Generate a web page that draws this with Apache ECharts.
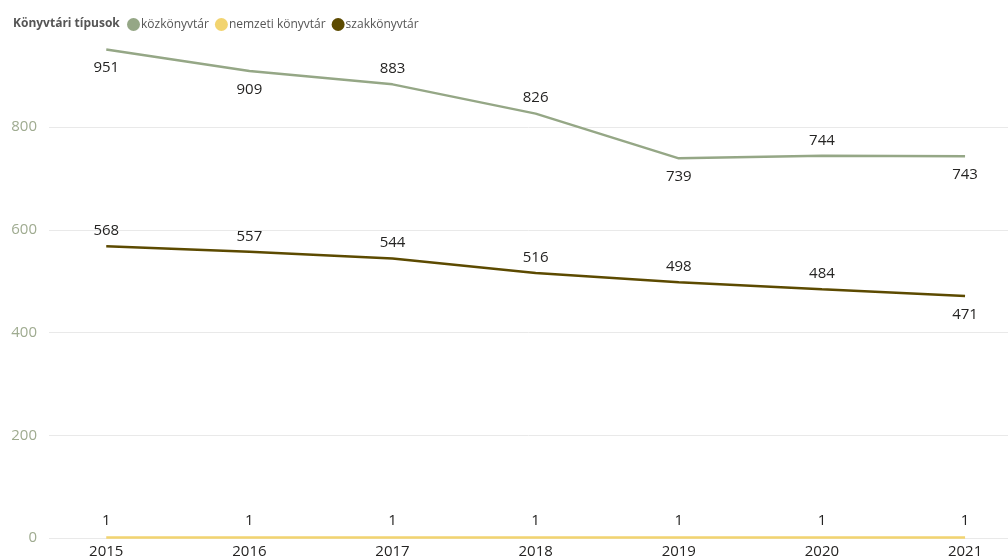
<!DOCTYPE html>
<html>
<head>
<meta charset="utf-8">
<script src="https://cdn.jsdelivr.net/npm/echarts@6/dist/echarts.min.js"></script>
<style>
html, body { margin: 0; padding: 0; background: #fff; }
#main { width: 1008px; height: 560px; }
</style>
</head>
<body>
<div id="main"></div>
<script>
var dom = document.getElementById("main");
var myChart = echarts.init(dom);
var option;

// adatok
var years = [2015, 2016, 2017, 2018, 2019, 2020, 2021];
var kozkonyvtar = [951, 909, 883, 826, 739, 744, 743];
var nemzeti = [1, 1, 1, 1, 1, 1, 1];
var szakkonyvtar = [568, 557, 544, 516, 498, 484, 471];
var yTicks = [0, 200, 400, 600, 800];

// címkék helye (felül / alul)
var kozPos = ['bottom', 'bottom', 'top', 'top', 'bottom', 'top', 'bottom'];
var szakPos = ['top', 'top', 'top', 'top', 'top', 'top', 'bottom'];

var font = '"Open Sans", "Noto Sans", sans-serif';

function pairs(vals, pos) {
    return vals.map(function (v, i) {
        var d = { value: [years[i], v] };
        if (pos) {
            d.label = { position: pos[i], distance: pos[i] === 'bottom' ? 11 : 8 };
        }
        return d;
    });
}

function line(name, color, data) {
    return {
        name: name,
        type: 'line',
        data: data,
        showSymbol: true,
        symbol: 'circle',
        symbolSize: 0,
        lineStyle: { width: 2.5, color: color },
        itemStyle: { color: color },
        label: {
            show: true,
            position: 'top',
            distance: 9,
            color: '#252423',
            fontFamily: font,
            fontSize: 15
        },
        emphasis: { disabled: true },
        z: 3
    };
}

option = {
    animation: false,
    textStyle: { fontFamily: font },
    title: {
        text: 'Könyvtári típusok',
        left: 8,
        top: 13,
        textStyle: { fontSize: 12, fontWeight: 'bold', color: '#555555', fontFamily: font }
    },
    legend: {
        left: 122,
        top: 13,
        icon: 'circle',
        itemWidth: 13,
        itemHeight: 13,
        itemGap: 6,
        textStyle: { fontSize: 12, color: '#555555', padding: [0, 0, 0, -4] },
        data: ['közkönyvtár', 'nemzeti könyvtár', 'szakkönyvtár']
    },
    grid: { left: 49, right: 0, top: 44.8, bottom: 22, containLabel: false },
    xAxis: {
        type: 'value',
        min: 2014.6,
        max: 2021.3,
        axisLine: { show: false },
        axisTick: { show: false },
        splitLine: { show: false },
        axisLabel: {
            customValues: years,
            formatter: function (v) { return String(v); },
            color: '#252423',
            fontSize: 15,
            margin: 6,
            fontFamily: font
        }
    },
    yAxis: {
        type: 'value',
        min: 0,
        max: 960,
        interval: 200,
        axisLine: { show: false },
        axisTick: { show: false },
        axisLabel: {
            customValues: yTicks,
            color: '#9fab90',
            fontSize: 15,
            margin: 12,
            fontFamily: font
        },
        splitLine: {
            showMaxLine: false,
            lineStyle: { color: '#e9e9e9', width: 1 }
        }
    },
    series: [
        line('közkönyvtár', '#95a786', pairs(kozkonyvtar, kozPos)),
        line('nemzeti könyvtár', '#f2d470', pairs(nemzeti)),
        line('szakkönyvtár', '#5c4a00', pairs(szakkonyvtar, szakPos))
    ]
};

myChart.setOption(option);
</script>
</body>
</html>
